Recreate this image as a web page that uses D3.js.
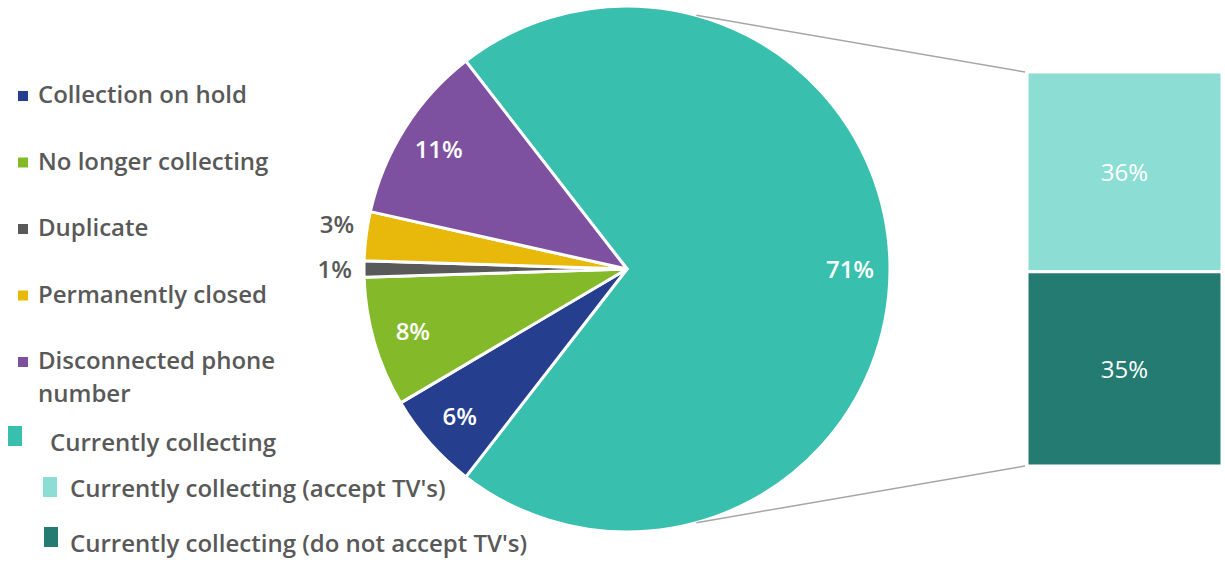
<!DOCTYPE html>
<html>
<head>
<meta charset="utf-8">
<script src="https://cdn.jsdelivr.net/npm/d3@7"></script>
<style>
  html, body { margin: 0; padding: 0; background: #fff; }
  svg { display: block; font-family: "Open Sans", sans-serif; }
</style>
</head>
<body>
<svg id="chart" width="1225" height="563"></svg>
<script>
// Pie slices, clockwise starting from the "Currently collecting" wedge
const categories = ["Currently collecting", "Collection on hold", "No longer collecting", "Duplicate", "Permanently closed", "Disconnected phone number"];
const values = [71, 6, 8, 1, 3, 11];
const sliceColors = ["#38bfad", "#253f8e", "#84ba2a", "#595959", "#e8b80a", "#7d519f"];

// Breakdown of "Currently collecting" shown in the side bar
const barCategories = ["Currently collecting (accept TV's)", "Currently collecting (do not accept TV's)"];
const barValues = [36, 35];
const barColors = ["#8cddd3", "#247b71"];

// Legend order
const legendItems = ["Collection on hold", "No longer collecting", "Duplicate", "Permanently closed", "Disconnected phone number"];

const svg = d3.select("#chart");
const textColor = "#595959";
const fontSize = 24;

const cx = 627, cy = 269, r = 263;
const total = d3.sum(values);
// the big wedge is centred on the right-hand side
const firstSpan = values[0] / total * 2 * Math.PI;
const startAngle = Math.PI / 2 - firstSpan / 2;

const pie = d3.pie().sort(null).value(d => d)
  .startAngle(startAngle).endAngle(startAngle + 2 * Math.PI);
const arcs = pie(values);
const arc = d3.arc().innerRadius(0).outerRadius(r);
const labelArc = d3.arc().innerRadius(223).outerRadius(223);

const g = svg.append("g").attr("transform", `translate(${cx},${cy})`);

// connector lines from the big wedge to the stacked bar
const bx0 = 1027, bx1 = 1222;
const yBar = d3.scaleLinear().domain([0, d3.sum(barValues)]).range([72, 466]);
const connA = 15.3 * Math.PI / 180, connB = 164.7 * Math.PI / 180;
const pt = a => [cx + r * Math.sin(a), cy - r * Math.cos(a)];
[[pt(connA), [bx0 - 2, yBar(0)]], [pt(connB), [bx0 - 2, yBar(d3.sum(barValues))]]].forEach(([p, q]) => {
  svg.append("line")
    .attr("x1", p[0]).attr("y1", p[1]).attr("x2", q[0]).attr("y2", q[1])
    .attr("stroke", "#a6a6a6").attr("stroke-width", 1.5);
});

g.selectAll("path.slice").data(arcs).join("path")
  .attr("class", "slice")
  .attr("d", arc)
  .attr("fill", (d, i) => sliceColors[i])
  .attr("stroke", "#fff").attr("stroke-width", 3).attr("stroke-linejoin", "round");

// labels: inside for larger slices, outside (left) for the thin ones
arcs.forEach((d, i) => {
  const v = values[i];
  if (v >= 5) {
    const [x, y] = labelArc.centroid(d);
    g.append("text").attr("x", x).attr("y", y).attr("dy", "0.36em")
      .attr("text-anchor", "middle").attr("fill", "#fff")
      .attr("font-size", fontSize).attr("font-weight", 600)
      .text(v + "%");
  } else {
    const mid = (d.startAngle + d.endAngle) / 2;
    const R = r + 12;
    const x = R * Math.sin(mid);
    const y = -R * Math.cos(mid) * 1.3;
    g.append("text").attr("x", x).attr("y", y).attr("dy", "0.36em")
      .attr("text-anchor", "end").attr("fill", textColor)
      .attr("font-size", fontSize).attr("font-weight", 600)
      .text(v + "%");
  }
});

// stacked bar
const stackStarts = barValues.map((v, i) => d3.sum(barValues.slice(0, i)));
barValues.forEach((v, i) => {
  const y0 = yBar(stackStarts[i]), y1 = yBar(stackStarts[i] + v);
  svg.append("rect")
    .attr("x", bx0).attr("y", y0).attr("width", bx1 - bx0).attr("height", y1 - y0)
    .attr("fill", barColors[i]).attr("stroke", "#fff").attr("stroke-width", 3);
  svg.append("text")
    .attr("x", (bx0 + bx1) / 2).attr("y", (y0 + y1) / 2).attr("dy", "0.36em")
    .attr("text-anchor", "middle").attr("fill", "#fff")
    .attr("font-size", fontSize).attr("font-weight", 400)
    .text(v + "%");
});

// legend
const legend = svg.append("g").attr("font-size", fontSize).attr("font-weight", 600).attr("fill", textColor);
const legendTop = 94.5, legendStep = 66.5;
legendItems.forEach((name, i) => {
  const y = legendTop + i * legendStep;
  legend.append("rect").attr("x", 18).attr("y", y - 3.5).attr("width", 10).attr("height", 10)
    .attr("fill", sliceColors[categories.indexOf(name)]);
  const t = legend.append("text").attr("x", 38).attr("y", y).attr("dy", "0.36em");
  if (name === "Disconnected phone number") {
    t.append("tspan").attr("x", 38).text("Disconnected phone");
    t.append("tspan").attr("x", 38).attr("dy", "1.375em").text("number");
  } else {
    t.text(name);
  }
});

legend.append("rect").attr("x", 8).attr("y", 426).attr("width", 14).attr("height", 20).attr("fill", sliceColors[0]);
legend.append("text").attr("x", 50).attr("y", 442.4).attr("dy", "0.36em").text(categories[0]);

[[43, 477, 70, 488.4], [44, 527, 70, 543.4]].forEach(([sx, sy, tx, ty], i) => {
  legend.append("rect").attr("x", sx).attr("y", sy).attr("width", 14).attr("height", 20).attr("fill", barColors[i]);
  legend.append("text").attr("x", tx).attr("y", ty).attr("dy", "0.36em").text(barCategories[i]);
});
</script>
</body>
</html>
